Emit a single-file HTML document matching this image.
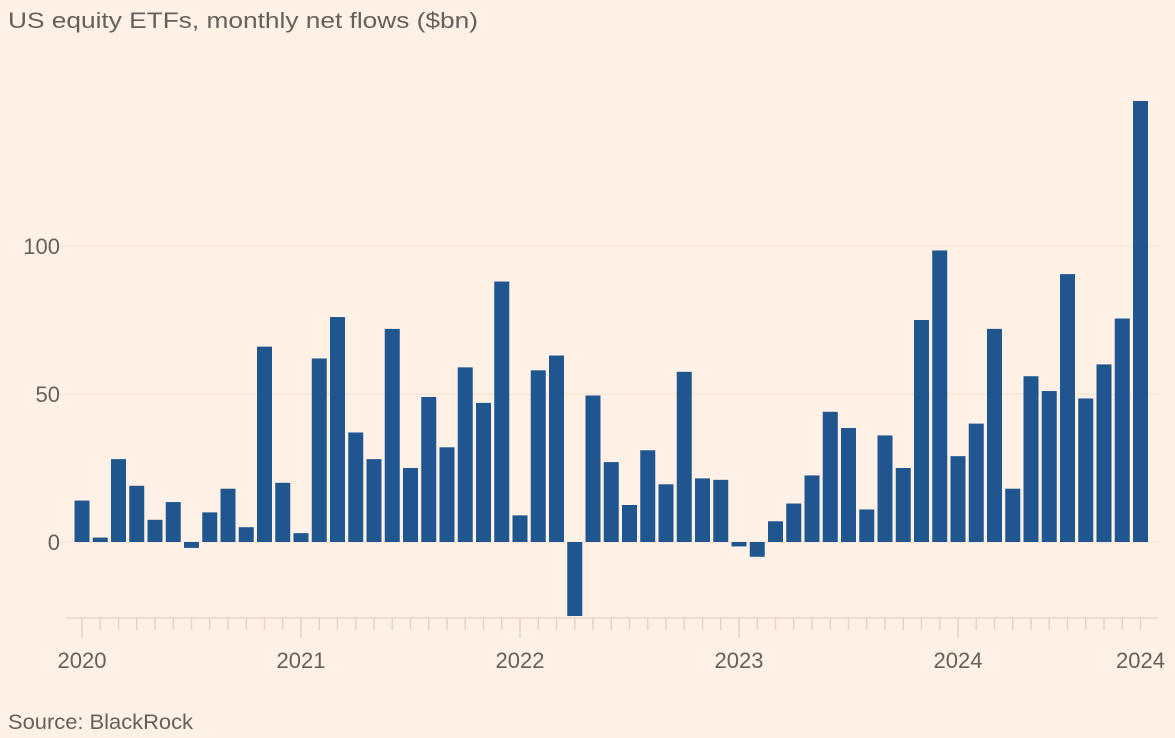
<!DOCTYPE html>
<html><head><meta charset="utf-8"><style>
body{margin:0;background:#fff1e5;font-family:"Liberation Sans",sans-serif;}
#wrap{position:relative;width:1175px;height:738px;overflow:hidden;}
svg text{font-family:"Liberation Sans",sans-serif;fill:#66605c;}
</style></head><body>
<div id="wrap">
<svg id="chart" width="1175" height="738">
<text x="8" y="28" font-size="22" textLength="470" lengthAdjust="spacingAndGlyphs">US equity ETFs, monthly net flows ($bn)</text>
<text x="8" y="729" font-size="21" textLength="185" lengthAdjust="spacingAndGlyphs">Source: BlackRock</text>
</svg>
</div>
<script>
const months = 59; // Jan 2020 - Nov 2024
const values = [14,1.5,28,19,7.5,13.5,-2,10,18,5,66,20,
3,62,76,37,28,72,25,49,32,59,47,88,
9,58,63,-25,49.5,27,12.5,31,19.5,57.5,21.5,21,
-1.5,-5,7,13,22.5,44,38.5,11,36,25,75,98.5,
29,40,72,18,56,51,90.5,48.5,60,75.5,149];
const yTicks = [0,50,100];
const yearLabels = ["2020","2021","2022","2023","2024"];
const ns="http://www.w3.org/2000/svg";
const svg=document.getElementById('chart');
const y0=542, ppu=2.96;
function yS(v){return y0-v*ppu;}
const x0=82, step=(958-82)/48;
function xS(i){return x0+i*step;}
function mk(t,a){const e=document.createElementNS(ns,t);for(const k in a)e.setAttribute(k,a[k]);svg.appendChild(e);return e;}
yTicks.forEach(v=>{
  const g=mk('line',{x1:60,x2:1160,y1:yS(v),y2:yS(v),stroke:'#f2dfce','stroke-width':1});
  
  
  const t=mk('text',{x:60,y:yS(v)+8,'font-size':22,'text-anchor':'end'});
  t.textContent=v;
  
  
});
values.forEach((v,i)=>{
  const top=Math.min(yS(v),y0), h=Math.abs(yS(v)-y0);
  const r=mk('rect',{x:xS(i)-7.5,y:top,width:15,height:Math.max(h,1),fill:'#1f5690'});
  
  
});
const ax=mk('line',{x1:66,x2:1158,y1:618,y2:618,stroke:'#e6d9cc','stroke-width':1.5});


for(let i=0;i<months;i++){
  const major=i%12===0;
  const tk=mk('line',{x1:xS(i),x2:xS(i),y1:618,y2:major?638:630,stroke:'#e0d3c6','stroke-width':1.5});
  
  
}
yearLabels.forEach((l,k)=>{
  const t=mk('text',{x:xS(k*12),y:668,'font-size':22,'text-anchor':'middle'});
  t.textContent=l;
  
  
});
const te=mk('text',{x:xS(months-1),y:668,'font-size':22,'text-anchor':'middle'});
te.textContent="2024";


</script>
</body></html>
